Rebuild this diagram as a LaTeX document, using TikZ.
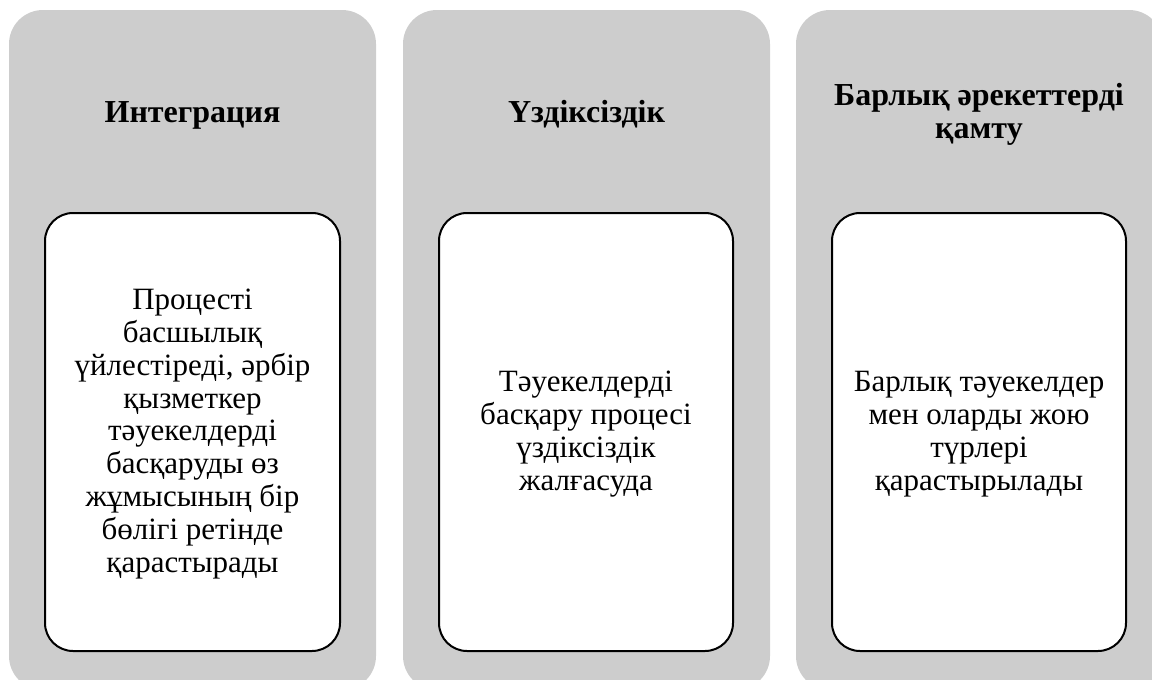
\documentclass[tikz,border=0pt]{standalone}
\usepackage{fontspec}
\setmainfont{Liberation Serif}
\definecolor{panelgray}{RGB}{205,205,205}
\tikzset{
  panel/.style={fill=panelgray, draw=none, rounded corners=34pt},
  inner/.style={fill=white, draw=black, line width=2pt, rounded corners=28pt},
  title/.style={font=\fontsize{32}{33}\selectfont\bfseries, align=center, inner sep=0pt},
  body/.style={font=\fontsize{31}{32.9}\selectfont, align=center, inner sep=0pt}
}
\begin{document}
\begin{tikzpicture}[x=1pt,y=-1pt]
\useasboundingbox (0,0) rectangle (1152,680);
\clip (0,0) rectangle (1152,680);
% panels
\path[panel] (9,10) rectangle (376,690);
\path[panel] (403,10) rectangle (770,690);
\path[panel] (796,10) rectangle (1163,690);
% inner boxes
\draw[inner] (45,213) rectangle (340,651);
\draw[inner] (439,213) rectangle (733,651);
\draw[inner] (832,213) rectangle (1126,651);
% titles
\node[title, anchor=base] (t1) at (192.5,122) {Интеграция};
\node[title, anchor=base] (t2) at (586.5,122) {Үздіксіздік};
\node[title] (t3) at (979,114) {Барлық әрекеттерді\\қамту};
% bodies
\node[body] (b1) at (192.5,434) {Процесті\\басшылық\\үйлестіреді, әрбір\\қызметкер\\тәуекелдерді\\басқаруды өз\\жұмысының бір\\бөлігі ретінде\\қарастырады};
\node[body] (b2) at (586,434) {Тәуекелдерді\\басқару процесі\\үздіксіздік\\жалғасуда};
\node[body] (b3) at (979,434) {Барлық тәуекелдер\\мен оларды жою\\түрлері\\қарастырылады};
\end{tikzpicture}
\end{document}
